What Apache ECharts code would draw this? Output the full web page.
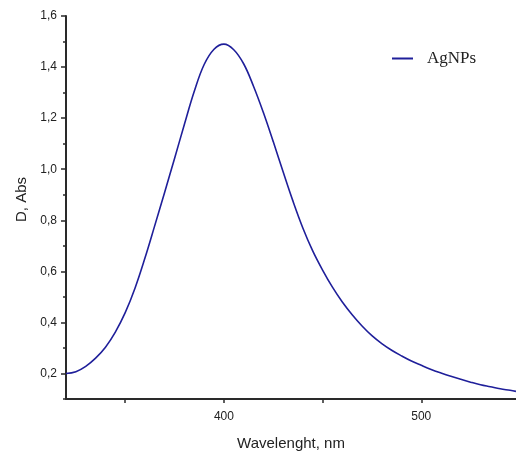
<!DOCTYPE html>
<html>
<head>
<meta charset="utf-8">
<script src="https://cdn.jsdelivr.net/npm/echarts@6/dist/echarts.min.js"></script>
<style>html,body{margin:0;padding:0;background:#fff;}#c{width:516px;height:459px;}</style>
</head>
<body>
<div id="c"></div>
<script>
const wavelength = [320,325,330,335,340,345,350,355,360,365,370,375,380,385,390,395,400,405,410,415,420,425,430,435,440,445,450,455,460,465,470,475,480,485,490,495,500,505,510,515,520,525,530,535,540,545,548];
const absorbance = [0.200,0.207,0.228,0.260,0.303,0.362,0.438,0.535,0.652,0.780,0.910,1.042,1.176,1.305,1.410,1.470,1.490,1.468,1.413,1.325,1.222,1.108,0.990,0.875,0.770,0.680,0.605,0.538,0.480,0.430,0.386,0.348,0.317,0.291,0.269,0.249,0.232,0.216,0.202,0.189,0.177,0.166,0.156,0.148,0.140,0.134,0.130];
const xMajorTicks = [400,500];
const xAllTicks = [350,400,450,500];
const yMajorTicks = [0.2,0.4,0.6,0.8,1.0,1.2,1.4,1.6];
const yMinorTicks = [0.1,0.3,0.5,0.7,0.9,1.1,1.3,1.5];
const seriesName = 'AgNPs';

const axisColor = '#2a2a2a';
const chart = echarts.init(document.getElementById('c'), null, {renderer:'canvas'});
chart.setOption({
  animation:false,
  backgroundColor:'#fff',
  grid:{left:66,right:0,top:16,bottom:60,containLabel:false},
  legend:{
    data:[seriesName], left:387, top:45, itemWidth:21, itemHeight:14,
    icon:'path://M0,6 L21,6 L21,8 L0,8 Z',
    textStyle:{fontFamily:'Liberation Serif', fontSize:17, color:'#222', padding:[0,0,0,9]}
  },
  xAxis:{
    type:'value', min:320, max:548,
    name:'Wavelenght, nm', nameLocation:'middle', nameGap:37,
    nameTextStyle:{fontFamily:'Liberation Sans', fontSize:15, color:'#222'},
    axisLine:{show:true, lineStyle:{color:axisColor, width:2}},
    axisTick:{show:true, customValues:xAllTicks, length:4, inside:false, lineStyle:{color:axisColor, width:1.5}},
    axisLabel:{customValues:xMajorTicks, margin:12, fontFamily:'Liberation Sans', fontSize:12, color:'#222'},
    splitLine:{show:false}
  },
  yAxis:[{
    type:'value', min:0.1, max:1.6,
    name:'D, Abs', nameLocation:'middle', nameGap:35,
    nameTextStyle:{fontFamily:'Liberation Sans', fontSize:15, color:'#222', padding:[0,0,0,16]},
    axisLine:{show:true, lineStyle:{color:axisColor, width:2}},
    axisTick:{show:true, customValues:yMajorTicks, length:5, lineStyle:{color:axisColor, width:1.5}},
    axisLabel:{customValues:yMajorTicks, margin:9, fontFamily:'Liberation Sans', fontSize:12, color:'#222',
      formatter:v=>v.toFixed(1).replace('.',',')},
    splitLine:{show:false}
  },{
    type:'value', min:0.1, max:1.6, position:'left',
    axisLine:{show:false},
    axisTick:{show:true, customValues:yMinorTicks, length:3, lineStyle:{color:axisColor, width:1.5}},
    axisLabel:{show:false},
    splitLine:{show:false}
  }],
  series:[{
    name:seriesName, type:'line', yAxisIndex:0,
    data:wavelength.map((w,i)=>[w,absorbance[i]]),
    smooth:0.4, showSymbol:false, symbol:'none',
    lineStyle:{color:'#1f1f9a', width:1.6},
    itemStyle:{color:'#1f1f9a'}
  }]
});
</script>
</body>
</html>
